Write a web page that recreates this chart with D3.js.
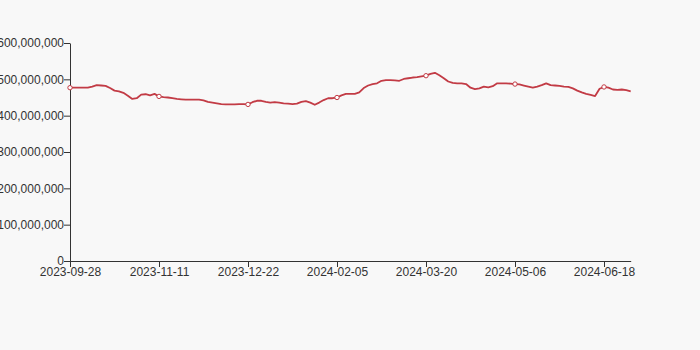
<!DOCTYPE html>
<html>
<head>
<meta charset="utf-8">
<script src="https://cdn.jsdelivr.net/npm/d3@7"></script>
<style>
  html, body { margin: 0; padding: 0; background: #f8f8f8; }
  svg { display: block; }
  .axis text { font-family: "Liberation Sans", Arial, sans-serif; font-size: 12px; fill: #333; }
  .axis path, .axis line { stroke: #333; }
</style>
</head>
<body>
<script>
// values in units, one per category (categories are evenly spaced on the axis)
const values = [
    477, 477, 477, 477, 477, 480, 484, 483, 482, 476,
    469, 467, 463, 455, 446, 448, 458, 459, 456, 460,
    453, 451, 450, 448, 446, 445, 444, 444, 444, 444,
    442, 438, 436, 434, 432, 431, 431, 431, 432, 432,
    431, 437, 441, 441, 438, 436, 437, 436, 434, 433,
    432, 433, 438, 440, 436, 430, 436, 443, 448, 448,
    450, 456, 460, 460, 460, 464, 476, 483, 487, 489,
    496, 498, 498, 497, 496, 501, 503, 505, 506, 508,
    510, 515, 518, 511, 503, 494, 490, 489, 489, 487,
    477, 473, 475, 480, 478, 481, 489, 489, 489, 488,
    487, 486, 483, 480, 477, 480, 484, 489, 484, 483,
    482, 480, 479, 475, 469, 464, 460, 457, 454, 474,
    479, 477, 472, 471, 472, 470, 467
].map(d => d * 1e6);

// labelled categories, every 20th point
const tickLabels = ["2023-09-28", "2023-11-11", "2023-12-22", "2024-02-05",
                    "2024-03-20", "2024-05-06", "2024-06-18"];
const tickEvery = 20;
const yTicks = [0, 100000000, 200000000, 300000000, 400000000, 500000000, 600000000];

const w = 700, h = 350;
const margin = {left: 70, right: 70, top: 43, bottom: 89};

const svg = d3.select("body").append("svg")
    .attr("width", w)
    .attr("height", h);

const x = d3.scalePoint()
    .domain(d3.range(values.length))
    .range([margin.left, margin.left + (values.length - 1) * 4.45]);

const y = d3.scaleLinear()
    .domain([0, 600000000])
    .range([h - margin.bottom, margin.top]);

const tickIdx = tickLabels.map((t, i) => i * tickEvery);

svg.append("g")
    .attr("class", "axis")
    .attr("transform", "translate(" + margin.left + ",0)")
    .call(d3.axisLeft(y).tickValues(yTicks).tickSizeOuter(0).tickFormat(d3.format(",")))
    .call(g => g.selectAll("text").attr("x", -6));

svg.append("g")
    .attr("class", "axis")
    .attr("transform", "translate(0," + (h - margin.bottom) + ")")
    .call(d3.axisBottom(x).tickValues(tickIdx).tickSizeOuter(0)
        .tickFormat((d, i) => tickLabels[i]))
    .call(g => g.selectAll("text").attr("dy", "0.85em").attr("y", 5));

const color = "#c23b45";

svg.append("path")
    .datum(values)
    .attr("fill", "none")
    .attr("stroke", color)
    .attr("stroke-width", 1.8)
    .attr("stroke-linejoin", "round")
    .attr("d", d3.line()
        .x((d, i) => x(i))
        .y(d => y(d)));

svg.selectAll("circle")
    .data(tickIdx)
    .enter()
    .append("circle")
    .attr("cx", d => x(d))
    .attr("cy", d => y(values[d]))
    .attr("r", 2.2)
    .attr("fill", "#fff")
    .attr("stroke", color)
    .attr("stroke-width", 1);
</script>
</body>
</html>
